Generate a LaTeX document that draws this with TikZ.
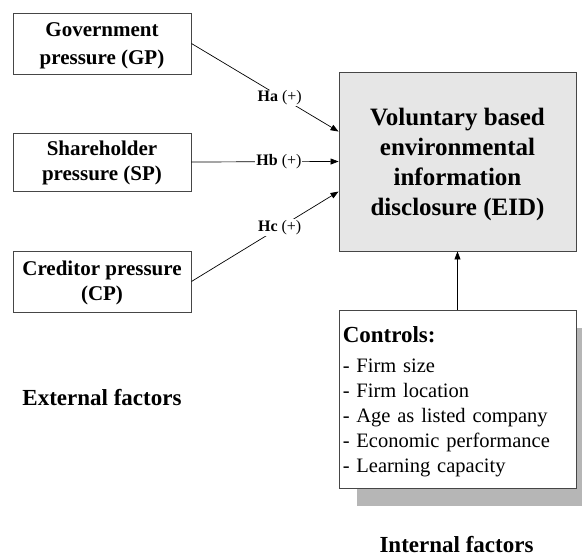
\documentclass[tikz,border=0pt]{standalone}
\usepackage{fontspec}
\setmainfont{Liberation Serif}
\usetikzlibrary{arrows.meta,calc}
\definecolor{boxline}{RGB}{70,70,70}
\definecolor{eidfill}{RGB}{230,230,230}
\definecolor{shadowgray}{RGB}{182,182,182}
\tikzset{
  frame/.style={draw=boxline, line width=0.9pt, inner sep=0pt},
  factor/.style={frame, fill=white, minimum width=178pt},
  factortext/.style={align=center, inner sep=0pt,
    font=\fontsize{21}{26}\selectfont\bfseries},
  outcome/.style={frame, fill=eidfill, minimum width=237pt, minimum height=179pt},
  outcometext/.style={align=center, inner sep=0pt,
    font=\fontsize{25}{30}\selectfont\bfseries},
  ctrlbox/.style={frame, fill=white, minimum width=237pt, minimum height=178pt},
  ctrltext/.style={align=left, inner sep=0pt, text width=229pt,
    font=\fontsize{20.5}{25}\selectfont},
  hyp/.style={fill=white, inner sep=1pt, font=\fontsize{16}{18}\selectfont},
  link/.style={line width=0.7pt, -{Triangle[length=8pt,width=6pt]}},
  heading/.style={font=\fontsize{23}{27}\selectfont\bfseries}
}
\begin{document}
\begin{tikzpicture}[x=1pt,y=-1pt]
  \useasboundingbox (0,0) rectangle (582,557);
  \clip (0,0) rectangle (582,557);

  % pressure sources
  \node[factor, minimum height=61pt] (GP) at (102,43.5) {};
  \node[factortext, font=\fontsize{21}{28}\selectfont\bfseries]
    (GPt) at ([yshift=-2.5pt]GP.center) {Government\\pressure (GP)};
  \node[factor, minimum height=58pt] (SP) at (102,162) {};
  \node[factortext, font=\fontsize{21}{25}\selectfont\bfseries]
    (SPt) at ([yshift=-1pt]SP.center) {Shareholder\\pressure (SP)};
  \node[factor, minimum height=61pt] (CP) at (102,281.5) {};
  \node[factortext, font=\fontsize{21}{24.5}\selectfont\bfseries]
    (CPt) at ([yshift=-1.5pt]CP.center) {Creditor pressure\\(CP)};

  % outcome
  \node[outcome] (EID) at (457.5,161.5) {};
  \node[outcometext] (EIDt) at ([yshift=-2.5pt]EID.center)
    {Voluntary based\\environmental\\information\\disclosure (EID)};

  % controls box with drop shadow
  \fill[shadowgray] (357,328) rectangle (600,506);
  \node[ctrlbox] (CTRL) at (457.5,399) {};
  \node[ctrltext, anchor=north west] (CTRLt) at ([xshift=4pt,yshift=-17pt]CTRL.north west)
    {{\fontsize{23}{27}\selectfont\bfseries Controls:}\\[5pt]
     - Firm size\\
     - Firm location\\
     - Age as listed company\\
     - Economic performance\\
     - Learning capacity};

  % hypothesised paths
  \coordinate (inA) at ([yshift=-60pt]EID.north west);
  \coordinate (inC) at ([yshift=-120pt]EID.north west);
  \draw[link] (GP.east) -- node[hyp, pos=0.6, yshift=-1.5pt] {\textbf{Ha} (+)} (inA);
  \draw[link] (SP.east) -- node[hyp, pos=0.595] {\textbf{Hb} (+)} (EID.west);
  \draw[link] (CP.east) -- node[hyp, pos=0.6] {\textbf{Hc} (+)} (inC);
  \draw[link] (CTRL.north) -- (EID.south);

  % group headings
  \node[heading] (EXT) at (102,398) {External factors};
  \node[heading] (INT) at (456.5,545) {Internal factors};
\end{tikzpicture}
\end{document}
